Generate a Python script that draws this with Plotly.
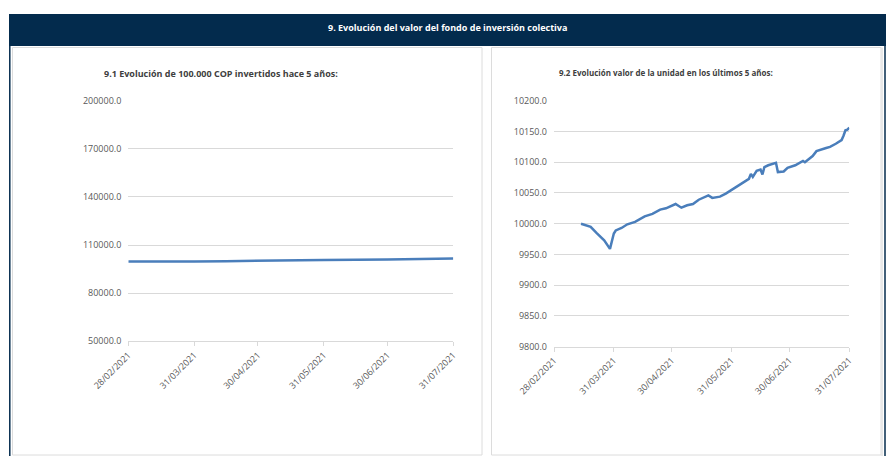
import plotly.graph_objects as go

# ---- data ----
left_dates = ["2021-02-28", "2021-03-14", "2021-03-29", "2021-03-31", "2021-04-15",
              "2021-04-30", "2021-05-31", "2021-06-15", "2021-06-24", "2021-06-30", "2021-07-31"]
left_values = [99750, 99750, 99450, 99700, 99950, 100300, 100700, 100900, 100800, 101000, 101600]

right_dates = ["2021-03-14", "2021-03-19", "2021-03-22", "2021-03-26", "2021-03-29", "2021-03-31",
               "2021-04-01", "2021-04-04", "2021-04-07", "2021-04-11", "2021-04-16", "2021-04-20",
               "2021-04-24", "2021-04-27", "2021-05-02", "2021-05-05", "2021-05-08", "2021-05-11",
               "2021-05-14", "2021-05-19", "2021-05-21", "2021-05-25", "2021-05-28", "2021-06-01",
               "2021-06-06", "2021-06-09", "2021-06-10", "2021-06-11", "2021-06-13", "2021-06-15",
               "2021-06-16", "2021-06-17", "2021-06-19", "2021-06-23", "2021-06-24", "2021-06-27",
               "2021-06-29", "2021-07-03", "2021-07-07", "2021-07-08", "2021-07-12", "2021-07-14",
               "2021-07-19", "2021-07-21", "2021-07-24", "2021-07-27", "2021-07-28", "2021-07-29",
               "2021-07-30", "2021-07-31"]
right_values = [10000, 9995, 9985, 9973, 9959, 9984,
                9989, 9993, 9999, 10003, 10012, 10016,
                10023, 10025, 10032, 10026, 10030, 10032,
                10039, 10046, 10042, 10044, 10049, 10057,
                10066, 10073, 10081, 10076, 10086, 10088,
                10080, 10092, 10095, 10099, 10084, 10085,
                10091, 10095, 10102, 10100, 10110, 10118,
                10123, 10125, 10130, 10136, 10143, 10152,
                10153, 10156]

tick_dates = ["2021-02-28", "2021-03-31", "2021-04-30", "2021-05-31", "2021-06-30", "2021-07-31"]
tick_text = ["28/02/2021", "31/03/2021", "30/04/2021", "31/05/2021", "30/06/2021", "31/07/2021"]

header_title = "9. Evolución del valor del fondo de inversión colectiva"
title_left = "9.1 Evolución de 100.000 COP invertidos hace 5 años:"
title_right = "9.2 Evolución valor de la unidad en los últimos 5 años:"

W, H = 888, 456
LINE = "#4a7ebb"
GRID = "#d9d9d9"
NAVY = "#032b4d"
TXT = "#595959"
FONT = "Open Sans"

fig = go.Figure()
fig.add_trace(go.Scatter(x=left_dates, y=left_values, mode="lines",
                         line=dict(color=LINE, width=2.5), xaxis="x", yaxis="y",
                         hoverinfo="skip"))
fig.add_trace(go.Scatter(x=right_dates, y=right_values, mode="lines",
                         line=dict(color=LINE, width=2.5), xaxis="x2", yaxis="y2",
                         hoverinfo="skip"))

def px(x):
    return x / W

def py(y):
    return 1 - y / H

xcommon = dict(type="date", range=["2021-02-28", "2021-07-31"], tickvals=tick_dates,
               ticktext=tick_text, tickangle=-45, showgrid=False, showline=True,
               linecolor=GRID, linewidth=1, ticks="outside", ticklen=4, tickcolor=GRID,
               tickfont=dict(family=FONT, size=9, color=TXT), zeroline=False, fixedrange=True,
               automargin=False)
ycommon = dict(showgrid=True, gridcolor=GRID, gridwidth=1, zeroline=False, showline=False,
               ticks="", tickformat=".1f", tickfont=dict(family=FONT, size=9, color=TXT),
               ticklabelstandoff=6, fixedrange=True, automargin=False)

fig.update_layout(
    width=W, height=H, autosize=False,
    margin=dict(l=0, r=0, t=0, b=0, pad=0, autoexpand=False),
    paper_bgcolor="white", plot_bgcolor="white",
    showlegend=False,
    xaxis=dict(domain=[px(128.3), px(453.3)], anchor="y", **xcommon),
    yaxis=dict(domain=[py(341.3), py(100.7)], anchor="x", range=[50000, 200000],
               tickvals=[50000, 80000, 110000, 140000, 170000, 200000], **ycommon),
    xaxis2=dict(domain=[px(554), px(849.3)], anchor="y2", **xcommon),
    yaxis2=dict(domain=[py(346.7), py(100.7)], anchor="x2", range=[9800, 10200],
                tickvals=[9800, 9850, 9900, 9950, 10000, 10050, 10100, 10150, 10200], **ycommon),
)

shapes = [
    # header bar
    dict(type="rect", xref="paper", yref="paper", x0=px(9), x1=px(886), y0=py(46), y1=py(14),
         fillcolor=NAVY, line=dict(width=0), layer="below"),
    # outer navy side borders
    dict(type="line", xref="paper", yref="paper", x0=px(9.8), x1=px(9.8), y0=py(46), y1=py(456),
         line=dict(color=NAVY, width=1.5)),
    dict(type="line", xref="paper", yref="paper", x0=px(885), x1=px(885), y0=py(46), y1=py(456),
         line=dict(color=NAVY, width=1.5)),
    # panel boxes
    dict(type="rect", xref="paper", yref="paper", x0=px(12.5), x1=px(482), y0=py(455), y1=py(47.5),
         line=dict(color="#dcdcdc", width=1), layer="below"),
    dict(type="rect", xref="paper", yref="paper", x0=px(491.5), x1=px(881), y0=py(455), y1=py(47.5),
         line=dict(color="#dcdcdc", width=1), layer="below"),
    dict(type="line", xref="paper", yref="paper", x0=px(882), x1=px(882), y0=py(47.5), y1=py(456),
         line=dict(color="#e8e8e8", width=2)),
]
fig.update_layout(shapes=shapes)

annotations = [
    dict(text="<b>" + header_title + "</b>", xref="paper", yref="paper", x=px(447), y=py(27),
         xanchor="center", yanchor="middle", showarrow=False,
         font=dict(family=FONT, size=9, color="white")),
    dict(text="<b>" + title_left + "</b>", xref="paper", yref="paper", x=px(102), y=py(74),
         xanchor="left", yanchor="middle", showarrow=False,
         font=dict(family=FONT, size=9, color="#404040")),
    dict(text="<b>" + title_right + "</b>", xref="paper", yref="paper", x=px(557), y=py(72),
         xanchor="left", yanchor="middle", showarrow=False,
         font=dict(family=FONT, size=8, color="#404040")),
]
fig.update_layout(annotations=annotations)

fig.write_html("out.html", config={"displayModeBar": False},
               post_script="document.body.style.margin='0';document.body.style.overflow='hidden';")
